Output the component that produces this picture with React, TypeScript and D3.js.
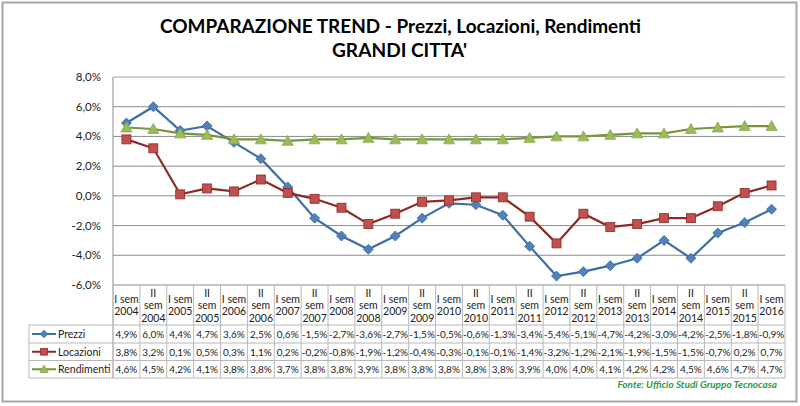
import React from "react";
import * as d3 from "d3";

const categories = [
  "I sem 2004", "II sem 2004", "I sem 2005", "II sem 2005", "I sem 2006", "II sem 2006",
  "I sem 2007", "II sem 2007", "I sem 2008", "II sem 2008", "I sem 2009", "II sem 2009",
  "I sem 2010", "II sem 2010", "I sem 2011", "II sem 2011", "I sem 2012", "II sem 2012",
  "I sem 2013", "II sem 2013", "I sem 2014", "II sem 2014", "I sem 2015", "II sem 2015",
  "I sem 2016",
];
const prezzi = [4.9, 6.0, 4.4, 4.7, 3.6, 2.5, 0.6, -1.5, -2.7, -3.6, -2.7, -1.5, -0.5, -0.6, -1.3, -3.4, -5.4, -5.1, -4.7, -4.2, -3.0, -4.2, -2.5, -1.8, -0.9];
const locazioni = [3.8, 3.2, 0.1, 0.5, 0.3, 1.1, 0.2, -0.2, -0.8, -1.9, -1.2, -0.4, -0.3, -0.1, -0.1, -1.4, -3.2, -1.2, -2.1, -1.9, -1.5, -1.5, -0.7, 0.2, 0.7];
const rendimenti = [4.6, 4.5, 4.2, 4.1, 3.8, 3.8, 3.7, 3.8, 3.8, 3.9, 3.8, 3.8, 3.8, 3.8, 3.8, 3.9, 4.0, 4.0, 4.1, 4.2, 4.2, 4.5, 4.6, 4.7, 4.7];
const yTicks = [-6, -4, -2, 0, 2, 4, 6, 8];
const seriesNames = ["Prezzi", "Locazioni", "Rendimenti"];

const W = 800, H = 406;
const L = 113, R = 785, T = 77, B = 285;
const tableRows = [325, 343, 360.5, 378];
const FONT = "Lato, 'Open Sans', sans-serif";
const fmt = (v: number) => v.toFixed(1).replace(".", ",") + "%";

const series = [
  { name: seriesNames[0], values: prezzi, line: "#3e6ea6", fill: "#4f81bd", stroke: "#3a679c", shape: "diamond" },
  { name: seriesNames[1], values: locazioni, line: "#8e2a26", fill: "#c0504d", stroke: "#8e2a26", shape: "square" },
  { name: seriesNames[2], values: rendimenti, line: "#77933c", fill: "#9bbb59", stroke: "#86a84a", shape: "triangle" },
];

function Marker({ shape, x, y, fill, stroke, s = 1 }: any) {
  if (shape === "diamond") {
    const r = 5 * s;
    return <path d={`M${x},${y - r}L${x + r},${y}L${x},${y + r}L${x - r},${y}Z`} fill={fill} stroke={stroke} strokeWidth={0.8} />;
  }
  if (shape === "square") {
    const r = 4.5 * s;
    return <rect x={x - r} y={y - r} width={2 * r} height={2 * r} fill={fill} stroke={stroke} strokeWidth={0.8} />;
  }
  const r = 5.5 * s;
  return <path d={`M${x},${y - r}L${x + r},${y + r * 0.8}L${x - r},${y + r * 0.8}Z`} fill={fill} stroke={stroke} strokeWidth={0.8} />;
}

export default function App() {
  const x = d3.scaleBand<string>().domain(categories).range([L, R]);
  const y = d3.scaleLinear().domain([-6, 8]).range([B, T]);
  const cx = (c: string) => (x(c) as number) + x.bandwidth() / 2;
  const line = d3.line<number>().x((_, i) => cx(categories[i])).y((v) => y(v));

  return (
    <svg width={W} height={H} style={{ position: "absolute", left: 0, top: 0, background: "#fff" }}>
      <rect x={2.5} y={2.5} width={794} height={399} fill="#fff" stroke="#a6a6a6" strokeWidth={2} />
      <text x={160} y={33} textLength={481} lengthAdjust="spacingAndGlyphs" fontFamily={FONT} fontWeight="bold" fontSize={19} fill="#000">
        COMPARAZIONE TREND  - Prezzi, Locazioni, Rendimenti
      </text>
      <text x={332} y={57} textLength={135} lengthAdjust="spacingAndGlyphs" fontFamily={FONT} fontWeight="bold" fontSize={19} fill="#000">
        GRANDI CITTA'
      </text>

      {/* gridlines */}
      {yTicks.map((t) => (
        <line key={t} x1={L} x2={R} y1={y(t)} y2={y(t)} stroke={t === 8 ? "#d0d0d0" : "#8c8c8c"} strokeWidth={t === 8 ? 2 : 1} />
      ))}
      <line x1={L} x2={L} y1={T} y2={tableRows[3]} stroke="#8c8c8c" strokeWidth={1} />
      {yTicks.map((t) => (
        <text key={"l" + t} x={101} y={y(t) + 4} textAnchor="end" fontFamily={FONT} fontSize={11.5} fill="#222">
          {fmt(t)}
        </text>
      ))}

      {/* lines */}
      {series.map((s) => (
        <path key={s.name} d={line(s.values) || ""} fill="none" stroke={s.line} strokeWidth={2.2} />
      ))}
      {series.map((s) =>
        s.values.map((v, i) => (
          <Marker key={s.name + i} shape={s.shape} x={cx(categories[i])} y={y(v)} fill={s.fill} stroke={s.stroke} />
        ))
      )}

      {/* table */}
      <g stroke="#b8b8b8" strokeWidth={1}>
        {categories.map((c) => (
          <line key={"v" + c} x1={(x(c) as number) + x.bandwidth()} x2={(x(c) as number) + x.bandwidth()} y1={B} y2={tableRows[3]} />
        ))}
        {tableRows.map((r) => (
          <line key={"h" + r} x1={29} x2={R} y1={r} y2={r} />
        ))}
        <line x1={29} x2={29} y1={tableRows[0]} y2={tableRows[3]} />
      </g>
      {categories.map((c) => {
        const parts = c.startsWith("II") ? ["II", "sem", c.slice(7)] : ["I sem", c.slice(6)];
        const lh = 12.5;
        const mid = (B + tableRows[0]) / 2;
        const start = mid - ((parts.length - 1) * lh) / 2 + 4;
        return (
          <text key={"c" + c} textAnchor="middle" fontFamily={FONT} fontSize={10.5} fill="#222">
            {parts.map((p, k) => (
              <tspan key={k} x={cx(c)} y={start + k * lh}>{p}</tspan>
            ))}
          </text>
        );
      })}
      {series.map((s, si) => {
        const ry = (tableRows[si] + tableRows[si + 1]) / 2;
        return (
          <g key={"row" + s.name}>
            <line x1={32} x2={56} y1={ry} y2={ry} stroke={s.line} strokeWidth={2} />
            <Marker shape={s.shape} x={44} y={ry} fill={s.fill} stroke={s.stroke} s={0.75} />
            <text x={58} y={ry + 4} fontFamily={FONT} fontSize={10.5} fill="#222">{s.name}</text>
            {s.values.map((v, i) => (
              <text key={i} x={cx(categories[i])} y={ry + 4} textAnchor="middle" fontFamily={FONT} fontSize={10} fill="#222">
                {fmt(v)}
              </text>
            ))}
          </g>
        );
      })}
      <text x={777} y={388} textAnchor="end" fontFamily={FONT} fontStyle="italic" fontWeight="bold" fontSize={10} fill="#2a9a4a">
        Fonte: Ufficio Studi Gruppo Tecnocasa
      </text>
    </svg>
  );
}
